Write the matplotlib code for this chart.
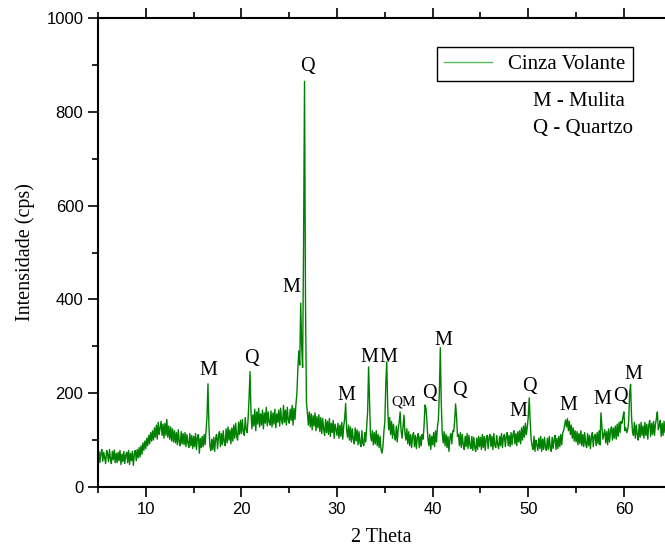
import numpy as np
import matplotlib
matplotlib.use("Agg")
import matplotlib.pyplot as plt

# 2 theta from 5.0 to 64.4, step 0.1 (one row per degree)
counts_rows = [
    [58, 76, 52, 72, 80, 55, 74, 62, 50, 78],          # 5
    [70, 54, 80, 60, 50, 76, 58, 79, 52, 72],          # 6
    [52, 74, 56, 78, 48, 70, 54, 76, 50, 68],          # 7
    [74, 52, 78, 48, 72, 56, 76, 46, 70, 78],          # 8
    [56, 80, 62, 84, 64, 88, 70, 94, 78, 98],          # 9
    [82, 104, 88, 110, 92, 116, 98, 120, 100, 126],    # 10
    [106, 132, 102, 138, 112, 126, 140, 110, 134, 104],  # 11
    [136, 110, 144, 106, 130, 102, 128, 98, 124, 96],  # 12
    [120, 94, 116, 90, 122, 96, 88, 118, 92, 114],     # 13
    [90, 116, 86, 112, 94, 84, 114, 88, 110, 82],      # 14
    [108, 86, 114, 80, 106, 112, 72, 104, 84, 108],    # 15
    [86, 112, 90, 120, 150, 220, 130, 88, 78, 102],    # 16
    [80, 106, 76, 104, 112, 82, 108, 118, 86, 114],    # 17
    [90, 120, 96, 88, 124, 94, 128, 100, 122, 92],     # 18
    [126, 98, 132, 104, 136, 108, 100, 138, 112, 142],  # 19
    [114, 144, 118, 110, 148, 122, 116, 146, 190, 246],  # 20
    [158, 124, 154, 130, 166, 120, 160, 134, 168, 128],  # 21
    [156, 132, 164, 124, 158, 136, 170, 130, 160, 138],  # 22
    [132, 162, 128, 158, 134, 166, 126, 156, 138, 164],  # 23
    [130, 168, 142, 134, 174, 138, 164, 132, 170, 142],  # 24
    [136, 166, 142, 174, 132, 168, 144, 176, 200, 250],  # 25
    [290, 260, 392, 300, 255, 520, 865, 400, 180, 158],  # 26
    [132, 160, 128, 156, 122, 152, 130, 158, 120, 150],  # 27
    [126, 154, 118, 148, 114, 146, 122, 110, 144, 116],  # 28
    [140, 112, 146, 108, 136, 116, 142, 104, 134, 122],  # 29
    [110, 136, 104, 132, 108, 138, 102, 130, 146, 178],  # 30
    [122, 106, 132, 100, 128, 96, 124, 102, 92, 126],  # 31
    [98, 122, 90, 118, 94, 86, 120, 92, 88, 116],      # 32
    [96, 128, 160, 256, 180, 110, 98, 120, 90, 116],   # 33
    [92, 120, 88, 112, 84, 108, 80, 72, 86, 118],      # 34
    [140, 220, 267, 170, 122, 148, 112, 140, 104, 134],  # 35
    [110, 100, 130, 96, 124, 138, 160, 120, 104, 128],  # 36
    [153, 116, 100, 124, 92, 118, 88, 112, 84, 108],   # 37
    [116, 86, 110, 82, 106, 114, 84, 108, 88, 112],    # 38
    [102, 130, 175, 168, 140, 104, 88, 112, 80, 108],  # 39
    [90, 116, 86, 120, 96, 128, 144, 200, 297, 180],   # 40
    [116, 94, 118, 88, 112, 84, 108, 76, 104, 114],    # 41
    [92, 120, 118, 140, 177, 150, 108, 112, 88, 116],  # 42
    [84, 112, 90, 80, 108, 86, 114, 82, 110, 88],      # 43
    [82, 108, 78, 106, 84, 76, 104, 80, 108, 86],      # 44
    [106, 80, 112, 84, 108, 78, 104, 110, 82, 106],    # 45
    [112, 86, 108, 80, 114, 88, 84, 110, 90, 82],      # 46
    [108, 88, 114, 84, 106, 112, 86, 108, 116, 88],    # 47
    [110, 86, 116, 90, 112, 120, 92, 114, 88, 118],    # 48
    [96, 120, 92, 126, 100, 130, 106, 136, 112, 128],  # 49
    [150, 190, 140, 102, 88, 80, 108, 76, 100, 90],    # 50
    [78, 104, 82, 108, 76, 102, 80, 106, 84, 78],      # 51
    [104, 80, 108, 84, 76, 106, 82, 102, 110, 80],     # 52
    [104, 82, 108, 86, 112, 90, 116, 120, 132, 143],   # 53
    [128, 146, 120, 140, 112, 132, 104, 126, 98, 120], # 54
    [96, 118, 90, 114, 92, 120, 88, 112, 86, 116],     # 55
    [92, 84, 114, 88, 110, 82, 106, 116, 86, 108],     # 56
    [112, 88, 116, 92, 120, 90, 158, 130, 102, 112],   # 57
    [122, 94, 118, 90, 124, 96, 120, 128, 100, 126],   # 58
    [104, 130, 102, 134, 108, 138, 116, 140, 136, 150],  # 59
    [160, 120, 126, 116, 122, 140, 200, 219, 150, 118],  # 60
    [110, 138, 104, 132, 112, 100, 134, 106, 138, 110],  # 61
    [130, 104, 138, 110, 134, 102, 132, 142, 108, 136],  # 62
    [112, 140, 110, 134, 146, 160, 122, 130, 142, 108],  # 63
    [136, 110, 140, 116, 128],                          # 64
]
counts = [c for row in counts_rows for c in row]
two_theta = [round(5.0 + 0.1 * i, 1) for i in range(len(counts))]

# peak labels: (text, 2theta, intensity)
labels = [
    ("M", 16.5, 249), ("Q", 21.0, 275), ("M", 25.2, 426), ("Q", 26.9, 896),
    ("M", 31.0, 196), ("M", 33.4, 277), ("M", 35.4, 277),
    ("Q", 39.7, 200), ("M", 41.1, 313), ("Q", 42.8, 205), ("M", 49.0, 162),
    ("Q", 50.1, 215), ("M", 54.2, 173), ("M", 57.8, 186), ("Q", 59.6, 194),
    ("M", 61.0, 239),
]
small_labels = [("QM", 37.0, 181)]

serif = "Liberation Serif"
sans = "Liberation Sans"

fig = plt.figure(figsize=(6.65, 5.52), dpi=100)
ax = fig.add_axes([98 / 665, 65 / 552, 1 - 98 / 665, 469 / 552])
ax.plot(two_theta, counts, color="#008000", lw=1.0, label="Cinza Volante")

ax.set_xlim(5, 64.3)
ax.set_ylim(0, 1000)
ax.set_xticks([10, 20, 30, 40, 50, 60])
ax.set_xticks(np.arange(5, 65, 5), minor=True)
ax.set_yticks([0, 200, 400, 600, 800, 1000])
ax.set_yticks(np.arange(100, 1000, 200), minor=True)
ax.tick_params(which="both", direction="out", top=True, labeltop=False,
               width=1.2, labelsize=12)
ax.tick_params(which="major", length=7)
ax.tick_params(which="minor", length=4)
for lab in ax.get_xticklabels() + ax.get_yticklabels():
    lab.set_fontfamily(sans)
for s in ["left", "bottom", "top"]:
    ax.spines[s].set_linewidth(1.5)
ax.spines["right"].set_visible(False)

ax.set_xlabel("2 Theta", fontfamily=serif, fontsize=14.5, labelpad=8)
ax.set_ylabel("Intensidade (cps)", fontfamily=serif, fontsize=14.5, labelpad=8)

for t, x, y in labels:
    ax.text(x, y, t, fontfamily=serif, fontsize=14.5, ha="center", va="center")
for t, x, y in small_labels:
    ax.text(x, y, t, fontfamily=serif, fontsize=11, ha="center", va="center")

leg = ax.legend(loc="upper right", bbox_to_anchor=(0.9436, 0.938),
                borderaxespad=0, fancybox=False, edgecolor="black",
                prop={"family": serif, "size": 15}, handlelength=2.3,
                borderpad=0.35, framealpha=1)
leg.get_frame().set_linewidth(1.0)
leg.get_lines()[0].set_color("#5cb85c")

ax.text(50.45, 821, "M - Mulita", fontfamily=serif, fontsize=15, va="center")
ax.text(50.45, 765, "Q - Quartzo", fontfamily=serif, fontsize=15, va="center")

fig.savefig("out.png", dpi=100)
